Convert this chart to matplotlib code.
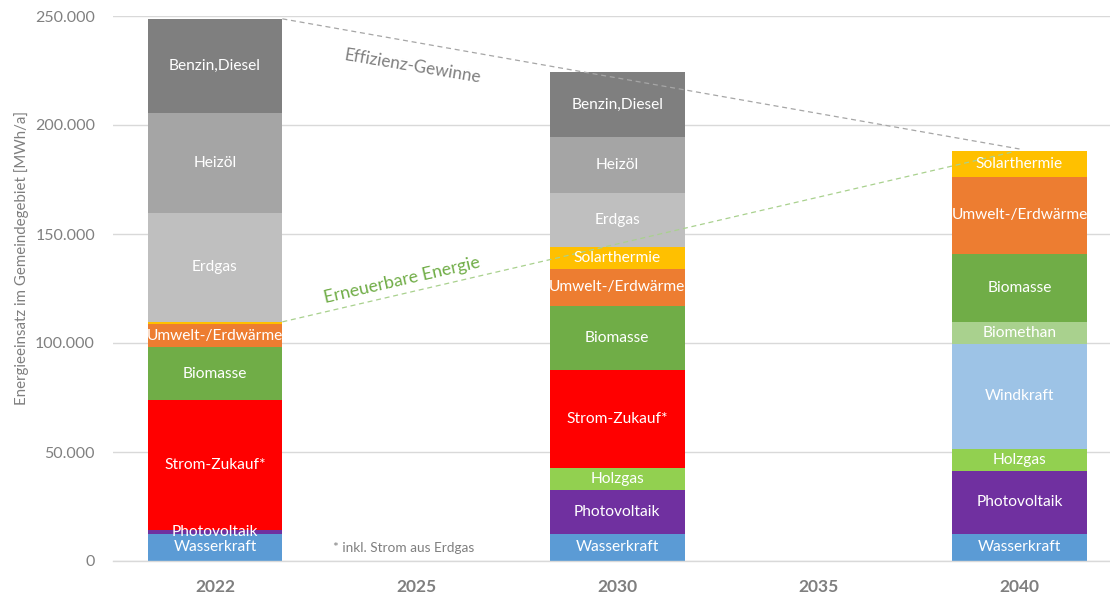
import matplotlib
matplotlib.use("Agg")
import matplotlib.pyplot as plt
import numpy as np

# ---- data ----
categories = ['2022', '2025', '2030', '2035', '2040']
series_names = ['Wasserkraft', 'Photovoltaik', 'Holzgas', 'Strom-Zukauf*', 'Windkraft',
                'Biomethan', 'Biomasse', 'Umwelt-/Erdwärme', 'Solarthermie',
                'Erdgas', 'Heizöl', 'Benzin,Diesel']
wasserkraft   = [12500, 0, 12500, 0, 12500]
photovoltaik  = [1500, 0, 20000, 0, 29000]
holzgas       = [0, 0, 10000, 0, 10000]
strom_zukauf  = [60000, 0, 45000, 0, 0]
windkraft     = [0, 0, 0, 0, 48000]
biomethan     = [0, 0, 0, 0, 10000]
biomasse      = [24000, 0, 29500, 0, 31500]
umwelt        = [10500, 0, 17000, 0, 35000]
solarthermie  = [1200, 0, 10000, 0, 12000]
erdgas        = [50000, 0, 25000, 0, 0]
heizoel       = [46000, 0, 25300, 0, 0]
benzin_diesel = [43000, 0, 30000, 0, 0]
yticks = [0, 50000, 100000, 150000, 200000, 250000]
hidden_labels = {('Solarthermie', '2022')}

values = [wasserkraft, photovoltaik, holzgas, strom_zukauf, windkraft, biomethan,
          biomasse, umwelt, solarthermie, erdgas, heizoel, benzin_diesel]
colors = ['#5B9BD5', '#7030A0', '#92D050', '#FF0000', '#9DC3E6', '#A9D18E',
          '#70AD47', '#ED7D31', '#FFC000', '#BFBFBF', '#A5A5A5', '#7F7F7F']

plt.rcParams['font.family'] = ['Lato', 'DejaVu Sans']

W, H = 1110, 598
fig = plt.figure(figsize=(W / 100, H / 100), dpi=100)
ax = fig.add_axes([113 / W, (H - 561) / H, (1110 - 113) / W, (561 - 16) / H])

x = np.arange(len(categories))
width = 0.67
bottom = np.zeros(len(categories))
for name, vals, col in zip(series_names, values, colors):
    v = np.array(vals, dtype=float)
    ax.bar(x, v, width, bottom=bottom, color=col, linewidth=0, zorder=2)
    for i, val in enumerate(v):
        if val > 0 and (name, categories[i]) not in hidden_labels:
            ax.text(x[i], bottom[i] + val / 2, name, ha='center', va='center',
                    color='white', fontsize=11.2, zorder=4)
    bottom = bottom + v

# helper lines
totals = bottom
renew_top = np.sum(values[:9], axis=0)
ax.plot([x[0] + width / 2, x[4]], [totals[0], totals[4] + 1000], ls=(0, (4, 3)),
        color='#A6A6A6', lw=0.9, zorder=3)
ax.plot([x[0] + width / 2, x[4] - 0.04], [renew_top[0], renew_top[4] - 500], ls=(0, (4, 3)),
        color='#A9D18E', lw=0.9, zorder=3)

ax.text(0.98, 227000, 'Effizienz-Gewinne', color='#7F7F7F', fontsize=12.3,
        rotation=-9.5, ha='center', va='center', rotation_mode='anchor')
ax.text(0.93, 129000, 'Erneuerbare Energie', color='#70AD47', fontsize=12.8,
        rotation=13, ha='center', va='center', rotation_mode='anchor')
ax.text(0.94, 6000, '* inkl. Strom aus Erdgas', color='#7F7F7F', fontsize=9.8,
        ha='center', va='center')

ax.set_xlim(-0.507, 4.45)
ax.set_ylim(0, 250000)
ax.set_xticks(x)
ax.set_xticklabels(categories, fontsize=12.5, fontweight='bold', color='#7F7F7F')
ax.set_yticks(yticks)
ax.set_yticklabels([f'{v:,.0f}'.replace(',', '.') for v in yticks], fontsize=11.5,
                   color='#808080')
ax.tick_params(axis='both', length=0)
ax.tick_params(axis='x', pad=13)
ax.tick_params(axis='y', pad=13)
ax.yaxis.grid(True, color='#D9D9D9', lw=1, zorder=0)
ax.set_axisbelow(True)
for s in ['top', 'right', 'left']:
    ax.spines[s].set_visible(False)
ax.spines['bottom'].set_color('#D9D9D9')
ax.spines['bottom'].set_linewidth(1)

fig.text(22 / W, 1 - 258 / H, 'Energieeinsatz im Gemeindegebiet [MWh/a]', rotation=90,
         ha='center', va='center', color='#7F7F7F', fontsize=10.8)

fig.savefig('out.png', dpi=100)
